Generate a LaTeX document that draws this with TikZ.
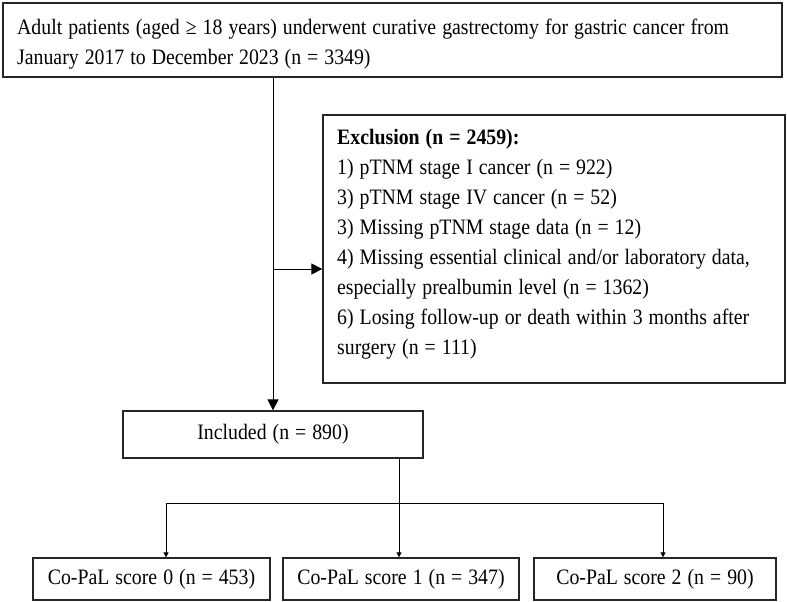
\documentclass[tikz,border=0pt]{standalone}
\usepackage{fontspec}
\setmainfont{Liberation Serif}[FakeStretch=0.9]
\usetikzlibrary{arrows.meta}
% text face used in every box: 22pt on 30pt lines, fixed word spaces
\newcommand{\flowfont}{\fontsize{22}{30}\selectfont\spaceskip=6pt\relax\xspaceskip=6pt\relax}
\begin{document}
\begin{tikzpicture}[x=1pt,y=-1pt,
  txt/.style={inner sep=0pt, font={\flowfont}},
  box/.style={draw=black!85, line width=1.3pt, inner sep=0pt, anchor=center, txt},
  para/.style={txt, align=left, anchor=north west},
  link/.style={draw=black, line width=1pt},
  bigtip/.style={link, -{Triangle[length=11pt,width=11pt]}},
  smalltip/.style={link, -{Triangle[length=5pt,width=5pt]}}]
\useasboundingbox (0,0) rectangle (787,602);

% frames
\node[box, minimum width=779, minimum height=74] (top) at (392.5,40) {};
\node[box, minimum width=462, minimum height=268] (excl) at (554,249) {};
\node[box, minimum width=300, minimum height=47] (inc) at (273,434.5)
  {Included (n = 890)};
\node[box, minimum width=237, minimum height=42] (s0) at (151.5,579)
  {Co-PaL score 0 (n = 453)};
\node[box, minimum width=236, minimum height=42] (s1) at (401,579)
  {Co-PaL score 1 (n = 347)};
\node[box, minimum width=242, minimum height=42] (s2) at (655,579)
  {Co-PaL score 2 (n = 90)};

% multi-line texts
\node[para] (toptext) at (17,19)
  {Adult patients (aged ≥ 18 years) underwent curative gastrectomy for gastric cancer from\\
   January 2017 to December 2023 (n = 3349)};
\node[para] (excltext) at (337,129.5)
  {\textbf{Exclusion (n = 2459):}\\
   1) pTNM stage I cancer (n = 922)\\
   3) pTNM stage IV cancer (n = 52)\\
   3) Missing pTNM stage data (n = 12)\\
   4) Missing essential clinical and/or laboratory data,\\
   especially prealbumin level (n = 1362)\\
   6) Losing follow-up or death within 3 months after\\
   surgery (n = 111)};

% connectors
\coordinate (branch) at (273,269);
\coordinate (split) at (399,503);
\coordinate (left) at (166,503);
\coordinate (right) at (663,503);

\draw[bigtip] (inc.north |- top.south) -- (inc.north);
\draw[bigtip] (branch) -- (branch -| excl.west);
\draw[link] (inc.south -| split) -- (split);
\draw[link] (left) -- (right);
\draw[smalltip] (left) -- (left |- s0.north);
\draw[smalltip] (split) -- (split |- s1.north);
\draw[smalltip] (right) -- (right |- s2.north);
\end{tikzpicture}
\end{document}
